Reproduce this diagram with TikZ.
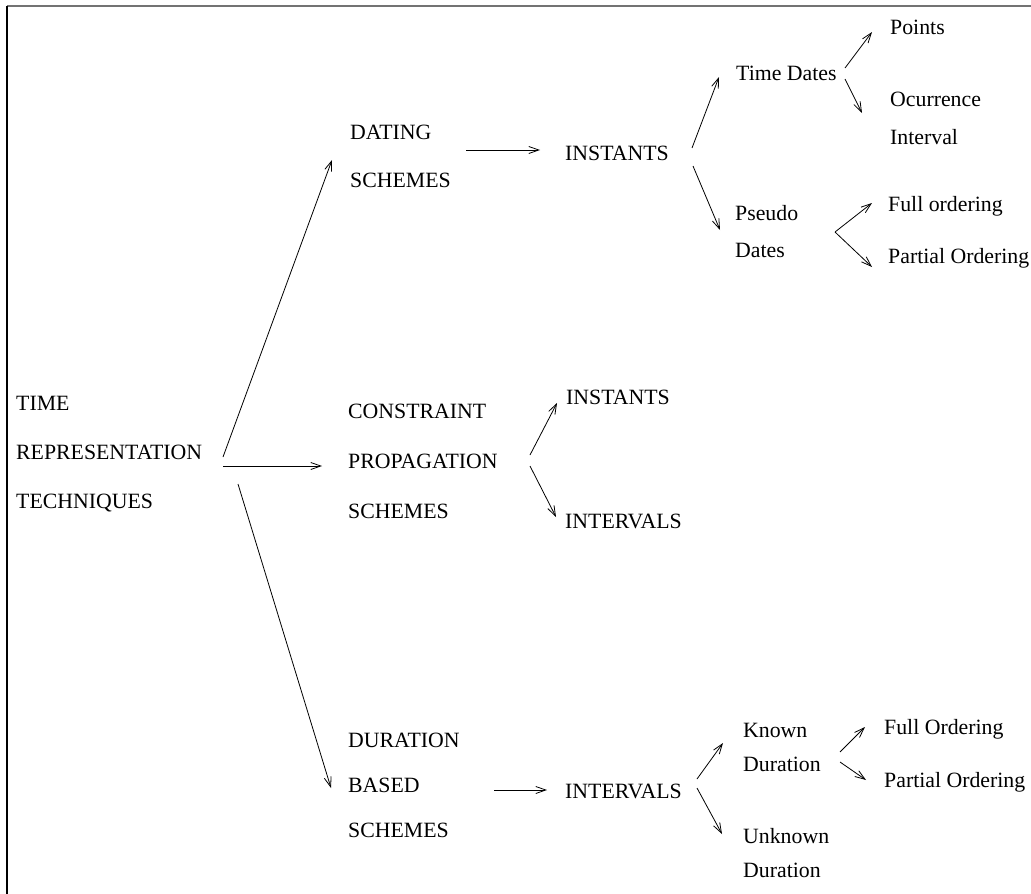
\documentclass[tikz,border=0pt]{standalone}
\usepackage{fontspec}
\setmainfont{Liberation Serif}
\usetikzlibrary{arrows.meta}
\begin{document}
\begin{tikzpicture}[x=1pt,y=-1pt,
  lbl/.style={anchor=west,inner sep=0pt,align=left,font=\fontsize{21.8}{#1}\selectfont},
  lbl/.default=26,
  arr/.style={-{Straight Barb[length=10pt,width=7pt]},line width=0.8pt},
  frameline/.style={line width=#1}]
\useasboundingbox (0,0) rectangle (1031,894);
% partial frame
\draw[frameline=1.5pt,black!55] (7,6) -- (1031,6);
\draw[frameline=1.2pt] (7,6) -- (7,894);

% root
\node[lbl=49] (trt) at (16,454) {TIME\\REPRESENTATION\\TECHNIQUES};

% dating branch
\node[lbl=48] (dating) at (350,156) {DATING\\SCHEMES};
\node[lbl] (inst1) at (565,153) {INSTANTS};
\node[lbl] (timedates) at (736,73) {Time Dates};
\node[lbl] (points) at (890,27) {Points};
\node[lbl=38] (occ) at (890,118) {Ocurrence\\Interval};
\node[lbl=37] (pseudo) at (735,231.5) {Pseudo\\Dates};
\node[lbl] (fullord1) at (888,206) {Full ordering};
\node[lbl] (partord1) at (888,258) {Partial Ordering};

% constraint propagation branch
\node[lbl=50] (cps) at (348,461.3) {CONSTRAINT\\PROPAGATION\\SCHEMES};
\node[lbl] (inst2) at (566,397) {INSTANTS};
\node[lbl] (intv1) at (565,521) {INTERVALS};

% duration branch
\node[lbl=45] (dbs) at (348,785) {DURATION\\BASED\\SCHEMES};
\node[lbl] (intv2) at (565,791) {INTERVALS};
\node[lbl=34] (known) at (743,747.5) {Known\\Duration};
\node[lbl=34] (unknown) at (743,853) {Unknown\\Duration};
\node[lbl] (fullord2) at (884,729) {Full Ordering};
\node[lbl] (partord2) at (884,782) {Partial Ordering};

% connectors
\draw[arr] ([shift={(207,3)}]trt.west) -- ([shift={(-18,4)}]dating.west);
\draw[arr] ([shift={(207,12)}]trt.west) -- ([shift={(-26,4.7)}]cps.west);
\draw[arr] ([shift={(222,30)}]trt.west) -- ([shift={(-17,3)}]dbs.west);

\draw[arr] ([shift={(116,-6)}]dating.west) -- ([shift={(-25,-3)}]inst1.west);
\draw[arr] ([shift={(127,-5)}]inst1.west) -- ([shift={(-17,4)}]timedates.west);
\draw[arr] ([shift={(128,13)}]inst1.west) -- ([shift={(-15,-1.5)}]pseudo.west);
\draw[arr] ([shift={(109,-5)}]timedates.west) -- ([shift={(-18,5)}]points.west);
\draw[arr] ([shift={(109,6)}]timedates.west) -- ([shift={(-28,-5)}]occ.west);
\draw[arr] ([shift={(100,0.5)}]pseudo.west) -- ([shift={(-16,-3)}]fullord1.west);
\draw[arr] ([shift={(100,0.5)}]pseudo.west) -- ([shift={(-16,9)}]partord1.west);

\draw[arr] ([shift={(182,-6.3)}]cps.west) -- ([shift={(-9,6)}]inst2.west);
\draw[arr] ([shift={(182,4.7)}]cps.west) -- ([shift={(-9,-4)}]intv1.west);

\draw[arr] ([shift={(146,5)}]dbs.west) -- ([shift={(-18,-1)}]intv2.west);
\draw[arr] ([shift={(132,-12)}]intv2.west) -- ([shift={(-20,-4.5)}]known.west);
\draw[arr] ([shift={(132,-3)}]intv2.west) -- ([shift={(-21,-19)}]unknown.west);
\draw[arr] ([shift={(97,4.5)}]known.west) -- ([shift={(-19,-2)}]fullord2.west);
\draw[arr] ([shift={(97,14.5)}]known.west) -- ([shift={(-18,-2)}]partord2.west);
\end{tikzpicture}
\end{document}
